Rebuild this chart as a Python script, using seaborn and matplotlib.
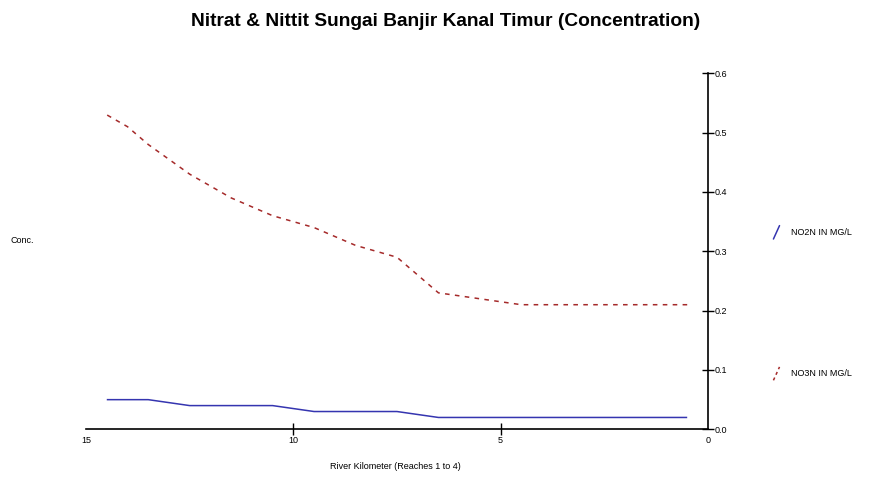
import pandas as pd
import numpy as np
import seaborn as sns
import matplotlib.pyplot as plt
from matplotlib.lines import Line2D

# river km (element positions, downstream towards 0)
km = [14.5, 14.0, 13.5, 13.0, 12.5, 12.0, 11.5, 11.0, 10.5, 10.0, 9.5, 9.0,
      8.5, 8.0, 7.5, 7.0, 6.5, 6.0, 5.5, 5.0, 4.5, 4.0, 3.5, 3.0, 2.5, 2.0,
      1.5, 1.0, 0.5]
no2n = [0.05, 0.05, 0.05, 0.045, 0.04, 0.04, 0.04, 0.04, 0.04, 0.035, 0.03, 0.03,
        0.03, 0.03, 0.03, 0.025, 0.02, 0.02, 0.02, 0.02, 0.02, 0.02, 0.02, 0.02,
        0.02, 0.02, 0.02, 0.02, 0.02]
no3n = [0.53, 0.51, 0.48, 0.455, 0.43, 0.41, 0.39, 0.375, 0.36, 0.35, 0.34, 0.325,
        0.31, 0.30, 0.29, 0.26, 0.23, 0.225, 0.22, 0.215, 0.21, 0.21, 0.21, 0.21,
        0.21, 0.21, 0.21, 0.21, 0.21]
series = ["NO2N IN MG/L", "NO3N IN MG/L"]
colors = ["#3535b0", "#a52a2a"]
xticks = [15, 10, 5, 0]
yticks = [0.0, 0.1, 0.2, 0.3, 0.4, 0.5, 0.6]

df = pd.concat([
    pd.DataFrame({"km": km, "conc": no2n, "series": series[0]}),
    pd.DataFrame({"km": km, "conc": no3n, "series": series[1]}),
])

sns.set_style("white")
plt.rcParams['font.family'] = ['Liberation Sans', 'DejaVu Sans']
plt.rcParams['text.color'] = 'black'
plt.rcParams['axes.edgecolor'] = 'black'

fig = plt.figure(figsize=(8.7, 4.79), dpi=100)
ax = fig.add_axes([0.0989, 0.1037, 0.8137 - 0.0989, 0.847 - 0.1037])

sns.lineplot(data=df, x="km", y="conc", hue="series", style="series",
             palette=colors, dashes=[(1, 0), (3, 3.5)], linewidth=1.1,
             legend=False, ax=ax)

ax.set_xlim(15, 0)
ax.set_ylim(0, 0.6)
ax.set_xticks(xticks)
ax.set_xticklabels([str(t) for t in xticks], fontsize=6.5)
ax.set_yticks(yticks)
ax.set_yticklabels(["%.1f" % t for t in yticks], fontsize=6.5)
ax.yaxis.tick_right()
ax.spines["left"].set_visible(False)
ax.spines["top"].set_visible(False)
ax.spines["right"].set_linewidth(1.2)
ax.spines["bottom"].set_linewidth(1.2)
ax.tick_params(axis="both", direction="inout", length=8, width=1, pad=1,
               colors="black", right=True, bottom=True)
xt = ax.xaxis.get_major_ticks()
xt[0].tick1line.set_visible(False)
xt[-1].tick1line.set_visible(False)
ax.set_xlabel("")
ax.set_ylabel("")

fig.text(0.512, 0.955, "Nitrat & Nittit Sungai Banjir Kanal Timur (Concentration)",
         ha="center", va="center", fontsize=13.8, fontweight="bold")
fig.text(0.0115, 0.498, "Conc.", ha="left", va="center", fontsize=6.5)
fig.text(0.455, 0.027, "River Kilometer (Reaches 1 to 4)", ha="center",
         va="center", fontsize=6.5)

# legend glyphs (slashes) with labels
for i, (lbl, col) in enumerate(zip(series, colors)):
    yc = 0.515 - i * 0.295
    ls = "-" if i == 0 else (0, (2, 2))
    fig.add_artist(Line2D([0.889, 0.896], [yc - 0.014, yc + 0.014],
                          color=col, linewidth=1.1, linestyle=ls,
                          transform=fig.transFigure))
    fig.text(0.909, yc, lbl, ha="left", va="center", fontsize=6.5)

fig.savefig("out.png", dpi=100)
